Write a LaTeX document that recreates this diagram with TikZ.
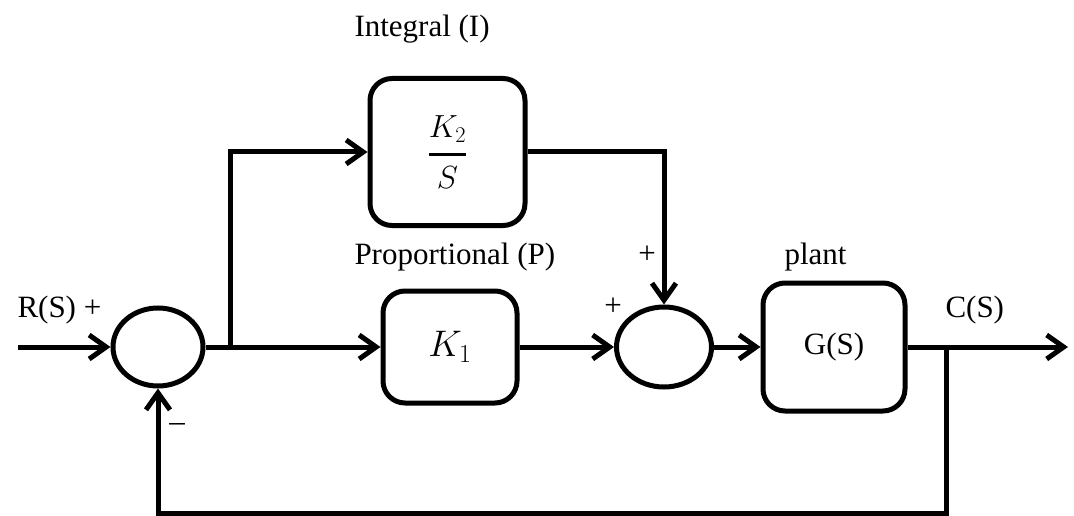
\documentclass[tikz,border=0pt]{standalone}
\usepackage{fix-cm}
\usepackage{amsmath}
\usepackage{fontspec}
\setmainfont{Liberation Serif}
\usetikzlibrary{arrows.meta,shapes.geometric}
\begin{document}
\begin{tikzpicture}[x=1pt,y=-1pt,
  line width=5pt,
  blk/.style={draw,rounded corners=22pt,inner sep=0pt,line width=5pt,font=\fontsize{31}{36}\selectfont},
  sumj/.style={draw,ellipse,inner sep=0pt,line width=5pt},
  arr/.style={-{Straight Barb[length=17pt,width=24pt,line width=5pt]}},
  lbl/.style={font=\fontsize{31}{36}\selectfont,inner sep=0pt,anchor=base west}]
\useasboundingbox (0,0) rectangle (1074,516);
% blocks
\node[sumj,minimum width=90pt,minimum height=78pt] (s1) at (158,347) {};
\node[sumj,minimum width=95pt,minimum height=80pt] (s2) at (664,347) {};
\node[blk,minimum width=155pt,minimum height=147pt,font=\fontsize{32}{36}\selectfont] (int) at (447.5,152) {$\genfrac{}{}{3.5pt}{0}{K_{\scriptstyle 2}}{S}$};
\node[blk,minimum width=134pt,minimum height=112pt,font=\fontsize{37}{42}\selectfont] (k1) at (450,347) {$K_1$};
\node[blk,minimum width=142pt,minimum height=128pt] (g) at (834,347) {G(S)};
% coordinates
\coordinate (in) at (18,347);
\coordinate (br) at (230,347);
\coordinate (out) at (1068,347);
\coordinate (fb) at (946,347);
\coordinate (fbl) at (946,513);
% connectors
\draw[arr] (in) -- (s1.west);
\draw[arr] (s1.east) -- (k1.west);
\draw[arr] (br) |- (int.west);
\draw[arr] (int.east) -| (s2.north);
\draw[arr] (k1.east) -- (s2.west);
\draw[arr] (s2.east) -- (g.west);
\draw[arr] (g.east) -- (out);
\draw[arr,line join=miter] (fb) -- (fbl) -| (s1.south);
% labels
\node[lbl] (tI) at (352,37) {Integral (I)};
\node[lbl] (tP) at (352,264) {Proportional (P)};
\node[lbl] (tplant) at (782,264) {plant};
\node[lbl] (tR) at (15,317) {R(S) +};
\node[lbl] (tC) at (943,317) {C(S)};
\node[lbl,anchor=center] (p1) at (647,255) {+};
\node[lbl,anchor=center] (p2) at (613,307) {+};
\node[lbl,anchor=center] (m1) at (177,428) {\textendash};
\end{tikzpicture}
\end{document}
